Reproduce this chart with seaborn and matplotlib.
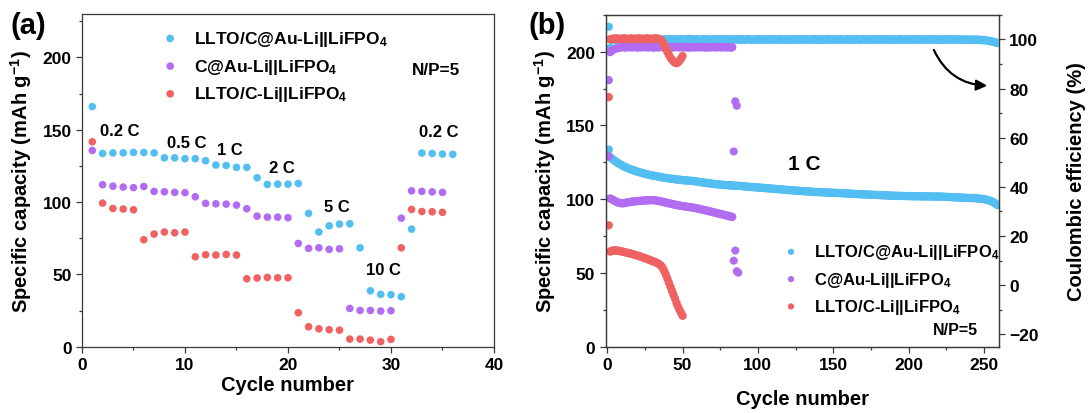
import matplotlib
matplotlib.use("Agg")
import numpy as np
import pandas as pd
import matplotlib.pyplot as plt
import seaborn as sns
from matplotlib.ticker import MultipleLocator

sns.set_style("ticks")
plt.rcParams["font.family"] = ["Liberation Sans", "DejaVu Sans"]
plt.rcParams["font.weight"] = "bold"
plt.rcParams["axes.labelweight"] = "bold"
plt.rcParams["text.color"] = "black"
plt.rcParams["axes.labelcolor"] = "black"
plt.rcParams["xtick.labelcolor"] = "black"
plt.rcParams["ytick.labelcolor"] = "black"
plt.rcParams["mathtext.fontset"] = "custom"
plt.rcParams["mathtext.rm"] = "Liberation Sans:bold"
plt.rcParams["mathtext.bf"] = "Liberation Sans:bold"
plt.rcParams["mathtext.it"] = "Liberation Sans:bold"
plt.rcParams["mathtext.default"] = "bf"

# ---------------- series names & colours ----------------
names = ["LLTO/C@Au-Li||LiFPO$_4$", "C@Au-Li||LiFPO$_4$", "LLTO/C-Li||LiFPO$_4$"]
colors = ["#52BEF2", "#B26CF2", "#F06262"]

# ---------------- (a) rate capability ----------------
rate_llto_au = [166, 133.6, 134, 134, 134.3, 134.3, 134, 130.6, 130.6, 130, 130, 128.6,
                125.6, 125.3, 124, 124, 116.8, 112.2, 112.4, 112.4, 112.9, 92.2, 79.3,
                83.6, 84.8, 85, 68.4, 38.7, 36.2, 36, 34.6, 81.3, 133.9, 133.6, 133.2, 133]
rate_au = [135.7, 112, 111, 110.4, 110, 110.8, 107.4, 107.1, 106.7, 106.5, 103.7, 99.1,
           98.8, 98.6, 97.9, 95.4, 90.3, 89.6, 89.6, 89.2, 71.4, 68, 68.4, 67.3, 67.7,
           26.5, 25.1, 25.1, 24.7, 24.9, 88.9, 107.8, 107.4, 107.1, 106.7]
rate_llto = [141.7, 99.3, 95.6, 95.2, 94.7, 74, 77.9, 79.3, 78.8, 79.3, 62.2, 63.6, 63.4,
             63.8, 63.4, 47, 47.5, 47.9, 47.7, 47.7, 23.5, 13.8, 12.4, 11.8, 11.5, 5.3,
             5.3, 4.6, 3.5, 5.1, 68.4, 94.9, 93.5, 93.3, 92.9]
rate_labels = ["0.2 C", "0.5 C", "1 C", "2 C", "5 C", "10 C", "0.2 C"]

# ---------------- (b) cycling at 1 C ----------------
cap_llto_au = [133.6, 128.4, 127.6, 126.8, 126.0, 125.3, 124.6, 124.0, 123.4, 122.8,
               122.3, 121.8, 121.3, 120.9, 120.5, 120.1, 119.7, 119.4, 119.0, 118.7,
               118.4, 118.1, 117.8, 117.5, 117.2, 117.0, 116.7, 116.5, 116.2, 116.0,
               115.9, 115.7, 115.5, 115.3, 115.1, 114.9, 114.7, 114.6, 114.4, 114.2,
               114.1, 113.9, 113.8, 113.7, 113.5, 113.4, 113.3, 113.2, 113.1, 112.9,
               112.8, 112.7, 112.7, 112.6, 112.5, 112.5, 112.3, 112.2, 112.0, 111.9,
               111.7, 111.6, 111.4, 111.3, 111.1, 111.0, 110.9, 110.7, 110.6, 110.5,
               110.3, 110.2, 110.1, 110.0, 109.9, 109.8, 109.7, 109.6, 109.6, 109.5,
               109.4, 109.3, 109.3, 109.2, 109.1, 109.1, 109.0, 109.0, 108.9, 108.8,
               108.7, 108.6, 108.5, 108.4, 108.3, 108.2, 108.2, 108.1, 108.0, 107.9,
               107.8, 107.8, 107.7, 107.6, 107.5, 107.4, 107.4, 107.3, 107.2, 107.1,
               107.0, 106.9, 106.8, 106.8, 106.7, 106.6, 106.5, 106.4, 106.3, 106.2,
               106.2, 106.1, 106.0, 105.9, 105.9, 105.8, 105.7, 105.6, 105.5, 105.5,
               105.4, 105.3, 105.3, 105.2, 105.1, 105.1, 105.0, 104.9, 104.9, 104.8,
               104.8, 104.7, 104.7, 104.6, 104.6, 104.5, 104.5, 104.4, 104.4, 104.3,
               104.3, 104.2, 104.2, 104.2, 104.1, 104.1, 104.0, 103.9, 103.9, 103.8,
               103.8, 103.7, 103.7, 103.6, 103.5, 103.5, 103.4, 103.4, 103.3, 103.3,
               103.2, 103.2, 103.1, 103.1, 103.0, 103.0, 103.0, 102.9, 102.9, 102.8,
               102.8, 102.7, 102.7, 102.6, 102.6, 102.5, 102.5, 102.4, 102.4, 102.4,
               102.3, 102.3, 102.3, 102.2, 102.2, 102.2, 102.2, 102.1, 102.1, 102.1,
               102.1, 102.0, 102.0, 102.0, 102.0, 102.0, 101.9, 101.9, 101.9, 101.9,
               101.9, 101.9, 101.9, 101.9, 101.9, 101.8, 101.8, 101.8, 101.8, 101.8,
               101.8, 101.7, 101.7, 101.6, 101.6, 101.5, 101.5, 101.4, 101.4, 101.3,
               101.3, 101.2, 101.2, 101.1, 101.1, 101.0, 101.0, 100.9, 100.9, 100.8,
               100.8, 100.8, 100.8, 100.7, 100.6, 100.5, 100.4, 100.3, 100.2, 100.0,
               99.8, 99.6, 99.3, 99.0, 98.6, 98.1, 97.5, 96.8, 96.0]
ce_llto_au = [105.1, 96.5,
              99.6, 99.8, 99.9, 99.8, 100.0, 99.9, 99.7, 99.9, 100.1, 99.8, 99.9, 100.0, 99.8, 99.9, 100.1, 99.9, 99.8, 100.0, 99.9, 99.7,
              99.9, 100.0, 99.8, 99.9, 100.1, 99.9, 99.8, 99.9, 100.0, 99.8, 99.9, 100.1, 99.9, 99.7, 99.9, 100.0, 99.8, 99.9, 100.0, 99.9,
              100.1, 99.8, 99.9, 100.0, 99.9, 99.8, 100.1, 99.9, 99.8, 100.0, 99.9, 99.9, 100.2, 99.8, 99.9, 100.0, 99.8, 100.0, 99.9, 99.8,
              99.9, 100.1, 99.8, 99.9, 100.0, 99.9, 99.7, 100.0, 99.9, 99.8, 100.1, 99.9, 99.9, 100.0, 99.8, 99.9, 100.1, 99.8, 99.9, 100.0,
              99.8, 99.9, 100.0, 99.9, 100.1, 99.8, 99.9, 100.0, 99.9, 99.8, 100.0, 100.1, 99.9, 99.8, 99.9, 100.0, 99.9, 99.8, 100.1, 99.9,
              99.9, 100.0, 99.8, 99.9, 100.1, 99.9, 99.8, 100.0, 99.9, 100.0, 99.8, 99.9, 100.1, 99.9, 99.8, 100.0, 99.9, 99.9, 100.0, 99.8,
              100.0, 99.9, 99.8, 100.1, 99.9, 99.9, 100.0, 99.8, 99.9, 100.1, 99.9, 99.8, 100.0, 99.9, 99.9, 100.1, 99.8, 99.9, 100.0, 99.9,
              99.8, 100.0, 99.9, 99.9, 100.1, 99.8, 99.9, 100.0, 99.9, 99.8, 100.0, 99.9, 100.1, 99.9, 99.8, 99.9, 100.0, 99.9, 99.8, 100.1,
              99.9, 99.8, 100.0, 99.9, 100.0, 99.8, 99.9, 100.1, 99.9, 99.9, 100.0, 99.8, 99.9, 100.0, 99.9, 99.8, 100.1, 99.9, 99.9, 100.0,
              99.8, 99.9, 100.1, 99.9, 99.8, 100.0, 99.9, 99.9, 100.0, 99.8, 99.9, 100.1, 99.9, 99.8, 100.0, 99.9, 99.9, 100.0, 99.8, 99.9,
              100.0, 99.9, 99.8, 100.1, 99.9, 99.9, 100.0, 99.8, 99.9, 100.0, 99.9, 99.8, 100.1, 99.9, 99.9, 100.0, 99.8, 99.9, 100.0, 99.9,
              99.8, 100.0, 99.9, 99.9, 100.1, 99.8, 99.9, 100.0, 99.9, 99.8, 100.0, 99.9, 99.9, 100.0, 99.8, 99.9, 99.9, 99.8, 99.9, 99.8,
              99.9, 99.8, 99.8, 99.9, 99.7, 99.8, 99.7, 99.6, 99.7, 99.5, 99.4, 99.3, 99.2, 99.0, 98.9, 98.7, 98.5]

cap_au = [129.0, 100.5, 100.0, 99.4, 98.8, 98.3, 97.8, 97.5, 97.3, 97.2,
          97.3, 97.5, 97.7, 97.9, 98.1, 98.3, 98.4, 98.5, 98.6, 98.7,
          98.8, 98.9, 99.0, 99.1, 99.1, 99.2, 99.3, 99.3, 99.4, 99.4,
          99.3, 99.2, 99.0, 98.8, 98.6, 98.4, 98.2, 97.9, 97.7, 97.4,
          97.2, 97.0, 96.8, 96.5, 96.3, 96.1, 95.9, 95.7, 95.5, 95.3,
          95.2, 95.0, 94.9, 94.7, 94.6, 94.4, 94.2, 94.1, 93.9, 93.7,
          93.5, 93.2, 93.0, 92.7, 92.5, 92.3, 92.0, 91.8, 91.5, 91.3,
          91.0, 90.8, 90.5, 90.3, 90.0, 89.8, 89.5, 89.3, 89.0, 88.8,
          88.5, 88.2, 88.0]
ce_au = [83.4, 94.8, 95.4, 95.8, 96.1, 96.3, 96.5, 96.6,
         96.7, 96.9, 96.8, 96.6, 96.9, 96.8, 97.0, 96.7, 96.8, 96.9,
         96.8, 96.6, 96.9, 96.8, 96.7, 97.0, 96.8, 96.9, 96.7, 96.8,
         96.9, 96.8, 96.6, 96.9, 96.8, 96.7, 96.9, 97.0, 96.8, 96.7,
         96.8, 96.9, 96.7, 96.8, 96.6, 96.9, 96.8, 96.8, 97.0, 96.7,
         96.9, 96.8, 96.7, 96.8, 96.9, 96.6, 96.8, 96.9, 96.7, 96.8,
         96.8, 97.0, 96.7, 96.8, 96.9, 96.7, 96.8, 96.6, 96.9, 96.8,
         96.7, 96.9, 96.8, 96.8, 96.7, 96.9, 96.8, 96.7, 96.9, 96.8,
         96.7, 96.8, 96.9, 96.6, 96.8]
ce_au_tail_cycles = [85, 86, 84, 85, 84, 86, 87]
ce_au_tail = [74.8, 73.0, 54.4, 14.1, 10.0, 5.7, 5.1]

cap_llto = [82.3, 64.5, 65.0, 65.2, 65.3, 65.2, 65.1, 64.9, 64.7, 64.5,
            64.3, 64.0, 63.8, 63.5, 63.3, 63.0, 62.7, 62.4, 62.1, 61.8,
            61.5, 61.1, 60.8, 60.4, 60.1, 59.7, 59.3, 58.9, 58.5, 58.1,
            57.7, 57.3, 56.8, 56.3, 55.6, 54.6, 53.0, 51.0, 48.6, 46.0,
            43.3, 40.6, 37.9, 35.2, 32.6, 29.6, 27.2, 25.0, 22.9, 21.0]
ce_llto = [76.5,
           100.0, 100.2, 100.3, 100.1, 100.4, 100.2, 100.3, 100.1, 100.2, 100.4,
           100.3, 100.1, 100.2, 100.3, 100.4, 100.2, 100.1, 100.3, 100.2, 100.4,
           100.2, 100.3, 100.1, 100.2, 100.4, 100.3, 100.2, 100.1, 100.3, 100.2,
           100.4, 100.2, 100.3,
           100.0, 99.5, 98.6, 97.4, 96.1, 94.8, 93.6, 92.6, 91.7, 91.0,
           90.5, 90.3, 90.6, 91.3, 92.2, 93.2]


def cycles(values):
    return np.arange(1, len(values) + 1)


def dots(ax, x, y, color, size, label=None):
    df = pd.DataFrame({"cycle": x, "value": y})
    sns.scatterplot(data=df, x="cycle", y="value", ax=ax, color=color, s=size,
                    edgecolor="none", linewidth=0, label=label, legend=False)


fig = plt.figure(figsize=(10.89, 4.14), dpi=100)
ax_a = fig.add_axes([0.0753, 0.160, 0.3783, 0.8037])
ax_b = fig.add_axes([0.5562, 0.160, 0.3611, 0.802])
ax_c = ax_b.twinx()

TICK_FS = 12.5
LABEL_FS = 14.5
SPINE_C = "#3a3a3a"

# ---- panel (a)
for vals, c, name in zip([rate_llto_au, rate_au, rate_llto], colors, names):
    dots(ax_a, cycles(vals), vals, c, 30, label=name)

ax_a.set_xlim(0, 40)
ax_a.set_ylim(0, 230)
ax_a.xaxis.set_major_locator(MultipleLocator(10))
ax_a.xaxis.set_minor_locator(MultipleLocator(5))
ax_a.yaxis.set_major_locator(MultipleLocator(50))
ax_a.yaxis.set_minor_locator(MultipleLocator(25))
ax_a.set_xlabel("Cycle number", fontsize=LABEL_FS, fontweight="bold")
ax_a.set_ylabel("Specific capacity (mAh g$^{-1}$)", fontsize=LABEL_FS, fontweight="bold")
ax_a.xaxis.set_label_coords(0.5, -0.085)
ax_a.yaxis.set_label_coords(-0.1165, 0.5)

rate_label_pos = [(3.7, 149.3), (10.2, 141.3), (14.4, 136.6), (19.4, 124.0),
                  (24.7, 97.0), (29.3, 53.7), (34.6, 148.6)]
for txt, (x, y) in zip(rate_labels, rate_label_pos):
    ax_a.text(x, y, txt, fontsize=12, fontweight="bold", ha="center", va="center")
ax_a.text(34.4, 192, "N/P=5", fontsize=12.3, fontweight="bold", ha="center", va="center")

h, l = ax_a.get_legend_handles_labels()
ax_a.legend(h, l, loc="upper left", bbox_to_anchor=(0.193, 0.955), frameon=False,
            fontsize=12.5, handlelength=1.0, handletextpad=0.9, labelspacing=0.5,
            borderpad=0, borderaxespad=0, markerscale=1.0)

# ---- panel (b)
for vals, c, name in zip([cap_llto_au, cap_au, cap_llto], colors, names):
    dots(ax_b, cycles(vals), vals, c, 36, label=name)
for vals, c in zip([ce_llto_au, ce_au, ce_llto], colors):
    dots(ax_c, cycles(vals), vals, c, 36)
dots(ax_c, ce_au_tail_cycles, ce_au_tail, colors[1], 34)

ax_b.set_xlim(-1, 260)
ax_b.set_ylim(0, 225)
ax_c.set_ylim(-25, 110)
ax_b.xaxis.set_major_locator(MultipleLocator(50))
ax_b.xaxis.set_minor_locator(MultipleLocator(25))
ax_b.yaxis.set_major_locator(MultipleLocator(50))
ax_b.yaxis.set_minor_locator(MultipleLocator(25))
ax_c.yaxis.set_major_locator(MultipleLocator(20))
ax_c.yaxis.set_minor_locator(MultipleLocator(10))
ax_b.set_xlabel("Cycle number", fontsize=LABEL_FS, fontweight="bold")
ax_b.set_ylabel("Specific capacity (mAh g$^{-1}$)", fontsize=LABEL_FS, fontweight="bold")
ax_c.set_ylabel("Coulombic efficiency (%)", fontsize=LABEL_FS, fontweight="bold")
ax_b.xaxis.set_label_coords(0.5, -0.127)
ax_b.yaxis.set_label_coords(-0.121, 0.5)
ax_c.yaxis.set_label_coords(1.172, 0.5)

ax_b.text(130.5, 124.1, "1 C", fontsize=15, fontweight="bold", ha="center", va="center")
ax_b.text(231, 12, "N/P=5", fontsize=11.5, fontweight="bold", ha="center", va="center")
ax_b.annotate("", xy=(252.2, 176.9), xytext=(216.8, 201.1),
              arrowprops=dict(arrowstyle="-|>", color="black", lw=1.6,
                              connectionstyle="arc3,rad=0.3", mutation_scale=16,
                              shrinkA=0, shrinkB=0))

h, l = ax_b.get_legend_handles_labels()
ax_c.legend(h, l, loc="upper left", bbox_to_anchor=(0.45, 0.315), frameon=False,
            fontsize=12, handlelength=1.0, handletextpad=0.9, labelspacing=0.5,
            borderpad=0, borderaxespad=0, markerscale=0.75)

# ---- shared axis styling
for ax in (ax_a, ax_b, ax_c):
    for sp in ax.spines.values():
        sp.set_color(SPINE_C)
        sp.set_linewidth(0.9)
    ax.tick_params(which="major", direction="out", length=4.5, width=0.9,
                   color=SPINE_C, labelcolor="black", labelsize=TICK_FS, pad=3)
    ax.tick_params(which="minor", direction="out", length=2.5, width=0.9, color=SPINE_C)
ax_a.tick_params(which="both", top=False, right=False)
ax_b.tick_params(which="both", top=False, right=False)
ax_c.tick_params(which="both", left=False, right=True, top=False)
for ax in (ax_a, ax_b, ax_c):
    for t in ax.get_xticklabels() + ax.get_yticklabels():
        t.set_fontweight("bold")

fig.text(0.026, 0.938, "(a)", fontsize=21, fontweight="bold", ha="center", va="center")
fig.text(0.502, 0.938, "(b)", fontsize=21, fontweight="bold", ha="center", va="center")

fig.savefig("out.png", dpi=100)
